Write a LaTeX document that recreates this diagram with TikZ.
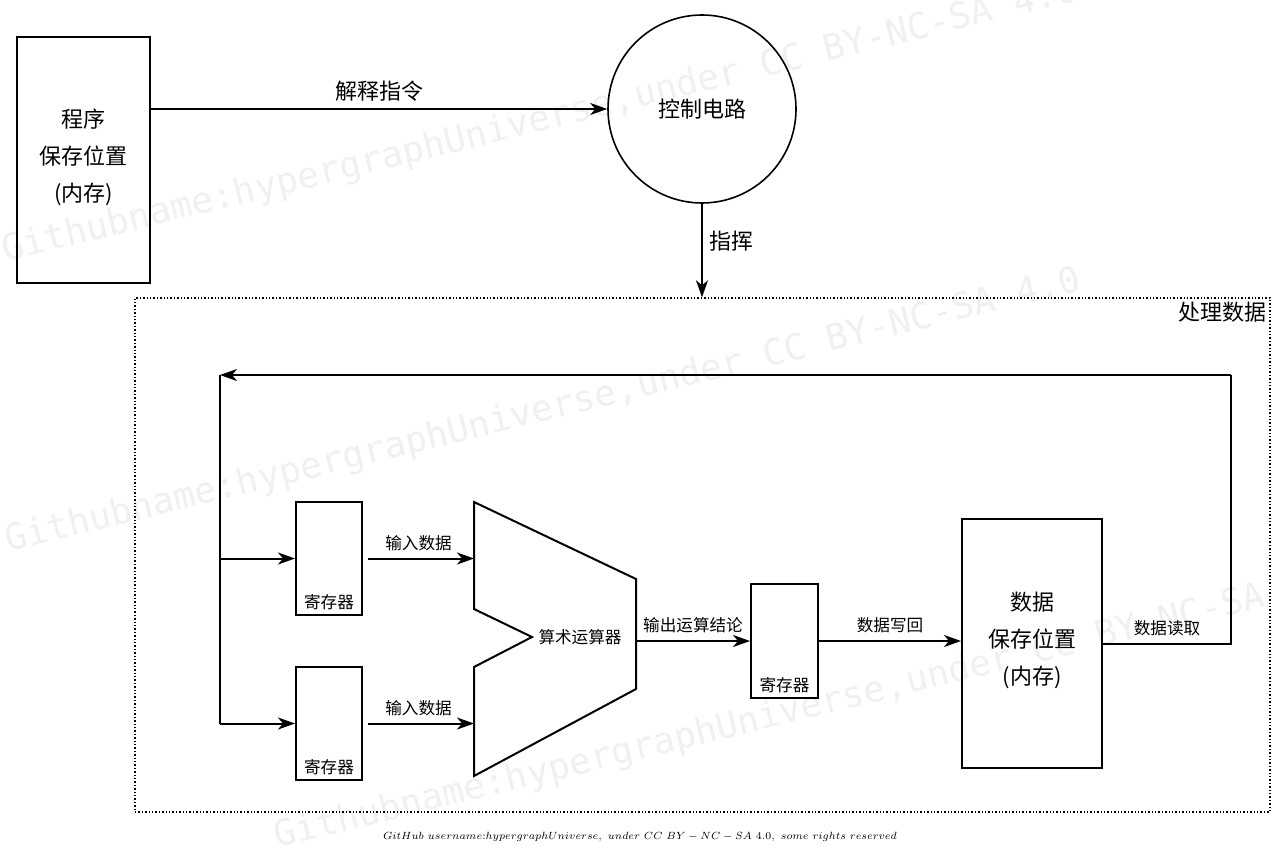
\documentclass[tikz,border=0pt]{standalone}
\usepackage{fontspec}
\newfontfamily\cjk{Noto Sans CJK SC}
\newfontfamily\wmfont{DejaVu Sans Mono}
\usetikzlibrary{arrows.meta,calc}

\begin{document}
\begin{tikzpicture}[x=0.5pt,y=-0.5pt,>={Stealth[length=8.5pt,width=6pt,inset=2.5pt]}]
\tikzstyle{big}=[font=\cjk\fontsize{11}{18.5}\selectfont]
\tikzstyle{small}=[font=\cjk\fontsize{8.3}{10}\selectfont]
\tikzstyle{box}=[draw,line width=1pt,inner sep=0pt,align=center]
\tikzstyle{reg}=[box,minimum width=33pt,minimum height=56.5pt]
\tikzstyle{line}=[line width=1pt]
\tikzstyle{wm}=[font=\wmfont\fontsize{18}{18}\selectfont,text=black!6,rotate=13.7,anchor=base west,inner sep=0pt]
\useasboundingbox (0,0) rectangle (1283,850);
% watermark
\node[wm] (wm1) at (5,262) {Githubname:hypergraphUniverse,under CC BY-NC-SA 4.0};
\node[wm] (wm2) at (8,552) {Githubname:hypergraphUniverse,under CC BY-NC-SA 4.0};
\node[wm] (wm3) at (277,848) {Githubname:hypergraphUniverse,under CC BY-NC-SA 4.0};

\node[box,big,minimum width=66.5pt,minimum height=123pt,text depth=5pt] (prog) at (83.5,160) {程序\\保存位置\\(内存)};
\node[circle,draw,line width=0.8pt,big,minimum size=94pt,inner sep=0pt] (ctrl) at (702,109) {控制电路};
\node[draw,densely dotted,line width=0.7pt,minimum width=567.5pt,minimum height=257pt,inner sep=0pt] (proc) at (702.5,555) {};
\node[big,anchor=north east,inner sep=2pt] (proclabel) at (proc.north east) {处理数据};

\draw[line,->] (prog.east |- ctrl.west) -- node[big,above] (jieshi) {解释指令} (ctrl.west);
\draw[line,->] (ctrl.south) -- node[big,right,pos=0.4] (zhihui) {指挥} (ctrl.south |- proc.north);

% registers and memory
\node[reg,label={[small,anchor=south,inner sep=3pt]south:寄存器}] (reg1) at (329,558.5) {};
\node[reg,label={[small,anchor=south,inner sep=3pt]south:寄存器}] (reg2) at (329,723.5) {};
\node[reg,minimum width=33.5pt,minimum height=57pt,label={[small,anchor=south,inner sep=3pt]south:寄存器}] (reg3) at (784.5,641) {};
\node[box,big,minimum width=70pt,minimum height=124.5pt,text depth=5pt] (mem) at (1032,643.5) {数据\\保存位置\\(内存)};

% ALU
\coordinate (alu1) at (474,502);
\coordinate (alu2) at (636,579);
\coordinate (alu3) at (636,689);
\coordinate (alu4) at (474,776);
\coordinate (alu5) at (474,667);
\coordinate (alu6) at (532,637);
\coordinate (alu7) at (474,609);
\draw[line width=1pt] (alu1) -- (alu2) -- (alu3) -- (alu4) -- (alu5) -- (alu6) -- (alu7) -- cycle;
\node[small] (alulabel) at (580,637) {算术运算器};

\draw[line,->,shorten <=2.5pt] (reg1.east) -- node[small,above] (in1) {输入数据} (reg1.east -| alu1);
\draw[line,->,shorten <=2.5pt] (reg2.east) -- node[small,above] (in2) {输入数据} (reg2.east -| alu1);
\draw[line,->] (alu2 |- reg3.west) -- node[small,above] (out) {输出运算结论} (reg3.west);
\draw[line,->] (reg3.east) -- node[small,above] (write) {数据写回} (reg3.east -| mem.west);

% feedback loop
\coordinate (back) at (1231,375);
\coordinate (split) at (220,375);
\draw[line] (mem.east) -- node[small,above] (read) {数据读取} (mem.east -| back) -- (back);
\draw[line,->] (back) -- (split);
\draw[line] (split) -- (split |- reg2.west);
\draw[line,->] (split |- reg1.west) -- (reg1.west);
\draw[line,->] (split |- reg2.west) -- (reg2.west);

\node[font=\fontsize{7.5}{9}\selectfont] (credit) at (640,837) {\scalebox{0.746}{$GitHub\ username{:}hypergraphUniverse,\ under\ CC\ BY-NC-SA\ 4.0,\ some\ rights\ reserved$}};
\end{tikzpicture}
\end{document}
